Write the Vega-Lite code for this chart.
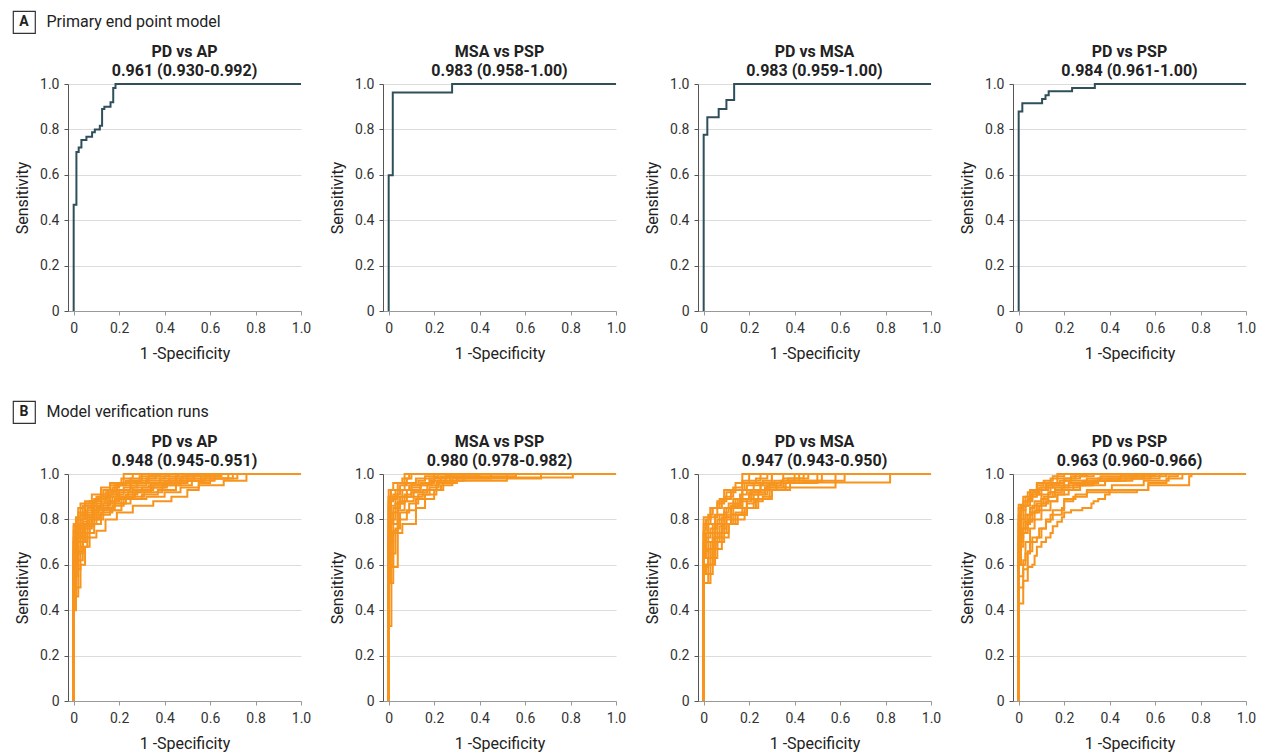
{
"$schema": "https://vega.github.io/schema/vega-lite/v6.json",
"padding": {"left": 12, "top": 10, "right": 3, "bottom": 3},
"background": "white",
"config": {
  "view": {"stroke": null},
  "font": "Roboto",
  "title": {"font": "Roboto", "fontSize": 16, "fontWeight": "bold", "color": "#222", "lineHeight": 19, "offset": -2, "anchor": "middle"},
  "axis": {"labelFont": "Roboto", "labelFontSize": 14, "labelColor": "#333", "titleFont": "Roboto", "titleFontSize": 16, "titleFontWeight": "normal", "titleColor": "#222", "tickSize": 4, "gridColor": "#dcdcdc", "gridWidth": 1, "labelFlush": false}
},
"datasets": {
  "a1": [{"r":1,"x":0,"y":0},{"r":1,"x":0,"y":0.468},{"r":1,"x":0.012,"y":0.70},{"r":1,"x":0.022,"y":0.72},{"r":1,"x":0.034,"y":0.753},{"r":1,"x":0.056,"y":0.768},{"r":1,"x":0.081,"y":0.787},{"r":1,"x":0.093,"y":0.80},{"r":1,"x":0.115,"y":0.816},{"r":1,"x":0.125,"y":0.89},{"r":1,"x":0.135,"y":0.90},{"r":1,"x":0.162,"y":0.92},{"r":1,"x":0.174,"y":0.982},{"r":1,"x":0.184,"y":1},{"r":1,"x":1,"y":1}],
  "a2": [{"r":1,"x":0,"y":0},{"r":1,"x":0,"y":0.598},{"r":1,"x":0.018,"y":0.963},{"r":1,"x":0.279,"y":1},{"r":1,"x":1,"y":1}],
  "a3": [{"r":1,"x":0,"y":0},{"r":1,"x":0,"y":0.776},{"r":1,"x":0.016,"y":0.853},{"r":1,"x":0.066,"y":0.89},{"r":1,"x":0.10,"y":0.929},{"r":1,"x":0.134,"y":1},{"r":1,"x":1,"y":1}],
  "a4": [{"r":1,"x":0,"y":0},{"r":1,"x":0,"y":0.879},{"r":1,"x":0.016,"y":0.915},{"r":1,"x":0.103,"y":0.934},{"r":1,"x":0.118,"y":0.95},{"r":1,"x":0.132,"y":0.968},{"r":1,"x":0.235,"y":0.982},{"r":1,"x":0.335,"y":1},{"r":1,"x":1,"y":1}],
  "b1": [
{"r":1,"x":0,"y":0},{"r":1,"x":0,"y":0.78},{"r":1,"x":0.01,"y":0.81},{"r":1,"x":0.03,"y":0.87},{"r":1,"x":0.07,"y":0.88},{"r":1,"x":0.1,"y":0.9},{"r":1,"x":0.13,"y":0.93},{"r":1,"x":0.16,"y":0.95},{"r":1,"x":0.22,"y":1},{"r":1,"x":1,"y":1},
{"r":2,"x":0,"y":0},{"r":2,"x":0,"y":0.72},{"r":2,"x":0.02,"y":0.8},{"r":2,"x":0.04,"y":0.86},{"r":2,"x":0.09,"y":0.88},{"r":2,"x":0.12,"y":0.91},{"r":2,"x":0.17,"y":0.94},{"r":2,"x":0.2,"y":0.96},{"r":2,"x":0.27,"y":0.97},{"r":2,"x":0.33,"y":0.99},{"r":2,"x":0.42,"y":1},{"r":2,"x":1,"y":1},
{"r":3,"x":0,"y":0},{"r":3,"x":0,"y":0.6},{"r":3,"x":0.01,"y":0.7},{"r":3,"x":0.03,"y":0.78},{"r":3,"x":0.06,"y":0.84},{"r":3,"x":0.1,"y":0.87},{"r":3,"x":0.14,"y":0.9},{"r":3,"x":0.19,"y":0.93},{"r":3,"x":0.25,"y":0.95},{"r":3,"x":0.32,"y":0.97},{"r":3,"x":0.45,"y":0.99},{"r":3,"x":0.55,"y":1},{"r":3,"x":1,"y":1},
{"r":4,"x":0,"y":0},{"r":4,"x":0,"y":0.5},{"r":4,"x":0.02,"y":0.65},{"r":4,"x":0.04,"y":0.74},{"r":4,"x":0.07,"y":0.8},{"r":4,"x":0.11,"y":0.84},{"r":4,"x":0.15,"y":0.88},{"r":4,"x":0.2,"y":0.9},{"r":4,"x":0.26,"y":0.93},{"r":4,"x":0.35,"y":0.95},{"r":4,"x":0.45,"y":0.97},{"r":4,"x":0.58,"y":0.99},{"r":4,"x":0.65,"y":1},{"r":4,"x":1,"y":1},
{"r":5,"x":0,"y":0},{"r":5,"x":0,"y":0.4},{"r":5,"x":0.01,"y":0.46},{"r":5,"x":0.02,"y":0.5},{"r":5,"x":0.03,"y":0.6},{"r":5,"x":0.05,"y":0.68},{"r":5,"x":0.07,"y":0.72},{"r":5,"x":0.1,"y":0.75},{"r":5,"x":0.14,"y":0.8},{"r":5,"x":0.19,"y":0.83},{"r":5,"x":0.26,"y":0.86},{"r":5,"x":0.35,"y":0.88},{"r":5,"x":0.43,"y":0.9},{"r":5,"x":0.5,"y":0.93},{"r":5,"x":0.55,"y":0.95},{"r":5,"x":0.66,"y":0.97},{"r":5,"x":0.76,"y":1},{"r":5,"x":1,"y":1},
{"r":6,"x":0,"y":0},{"r":6,"x":0,"y":0.65},{"r":6,"x":0.01,"y":0.72},{"r":6,"x":0.03,"y":0.8},{"r":6,"x":0.05,"y":0.83},{"r":6,"x":0.08,"y":0.86},{"r":6,"x":0.12,"y":0.88},{"r":6,"x":0.16,"y":0.91},{"r":6,"x":0.22,"y":0.94},{"r":6,"x":0.28,"y":0.96},{"r":6,"x":0.38,"y":0.98},{"r":6,"x":0.48,"y":0.99},{"r":6,"x":0.6,"y":1},{"r":6,"x":1,"y":1},
{"r":7,"x":0,"y":0},{"r":7,"x":0,"y":0.55},{"r":7,"x":0.01,"y":0.62},{"r":7,"x":0.02,"y":0.7},{"r":7,"x":0.05,"y":0.76},{"r":7,"x":0.08,"y":0.8},{"r":7,"x":0.13,"y":0.85},{"r":7,"x":0.18,"y":0.89},{"r":7,"x":0.24,"y":0.92},{"r":7,"x":0.3,"y":0.94},{"r":7,"x":0.4,"y":0.96},{"r":7,"x":0.5,"y":0.98},{"r":7,"x":0.7,"y":1},{"r":7,"x":1,"y":1},
{"r":8,"x":0,"y":0},{"r":8,"x":0,"y":0.7},{"r":8,"x":0.02,"y":0.76},{"r":8,"x":0.04,"y":0.82},{"r":8,"x":0.06,"y":0.85},{"r":8,"x":0.09,"y":0.89},{"r":8,"x":0.14,"y":0.92},{"r":8,"x":0.18,"y":0.95},{"r":8,"x":0.23,"y":0.97},{"r":8,"x":0.3,"y":0.98},{"r":8,"x":0.36,"y":1},{"r":8,"x":1,"y":1},
{"r":9,"x":0,"y":0},{"r":9,"x":0,"y":0.45},{"r":9,"x":0.01,"y":0.58},{"r":9,"x":0.03,"y":0.68},{"r":9,"x":0.06,"y":0.77},{"r":9,"x":0.09,"y":0.81},{"r":9,"x":0.12,"y":0.83},{"r":9,"x":0.17,"y":0.86},{"r":9,"x":0.22,"y":0.89},{"r":9,"x":0.3,"y":0.91},{"r":9,"x":0.37,"y":0.93},{"r":9,"x":0.45,"y":0.95},{"r":9,"x":0.52,"y":0.97},{"r":9,"x":0.62,"y":0.98},{"r":9,"x":0.72,"y":1},{"r":9,"x":1,"y":1},
{"r":10,"x":0,"y":0},{"r":10,"x":0,"y":0.75},{"r":10,"x":0.02,"y":0.83},{"r":10,"x":0.05,"y":0.87},{"r":10,"x":0.1,"y":0.89},{"r":10,"x":0.15,"y":0.92},{"r":10,"x":0.19,"y":0.95},{"r":10,"x":0.25,"y":0.98},{"r":10,"x":0.3,"y":1},{"r":10,"x":1,"y":1},
{"r":11,"x":0,"y":0},{"r":11,"x":0,"y":0.68},{"r":11,"x":0.01,"y":0.74},{"r":11,"x":0.04,"y":0.79},{"r":11,"x":0.07,"y":0.82},{"r":11,"x":0.1,"y":0.85},{"r":11,"x":0.15,"y":0.87},{"r":11,"x":0.21,"y":0.9},{"r":11,"x":0.27,"y":0.92},{"r":11,"x":0.34,"y":0.94},{"r":11,"x":0.41,"y":0.96},{"r":11,"x":0.5,"y":0.97},{"r":11,"x":0.56,"y":0.99},{"r":11,"x":0.64,"y":1},{"r":11,"x":1,"y":1},
{"r":12,"x":0,"y":0},{"r":12,"x":0,"y":0.62},{"r":12,"x":0.02,"y":0.72},{"r":12,"x":0.04,"y":0.77},{"r":12,"x":0.06,"y":0.81},{"r":12,"x":0.09,"y":0.84},{"r":12,"x":0.13,"y":0.87},{"r":12,"x":0.17,"y":0.9},{"r":12,"x":0.23,"y":0.91},{"r":12,"x":0.28,"y":0.93},{"r":12,"x":0.34,"y":0.96},{"r":12,"x":0.42,"y":0.98},{"r":12,"x":0.5,"y":1},{"r":12,"x":1,"y":1},
{"r":13,"x":0,"y":0},{"r":13,"x":0,"y":0.7},{"r":13,"x":0.01,"y":0.77},{"r":13,"x":0.03,"y":0.82},{"r":13,"x":0.05,"y":0.86},{"r":13,"x":0.08,"y":0.88},{"r":13,"x":0.11,"y":0.9},{"r":13,"x":0.15,"y":0.93},{"r":13,"x":0.19,"y":0.96},{"r":13,"x":0.24,"y":0.97},{"r":13,"x":0.29,"y":0.99},{"r":13,"x":0.38,"y":1},{"r":13,"x":1,"y":1},
{"r":14,"x":0,"y":0},{"r":14,"x":0,"y":0.52},{"r":14,"x":0.01,"y":0.6},{"r":14,"x":0.02,"y":0.66},{"r":14,"x":0.04,"y":0.72},{"r":14,"x":0.07,"y":0.78},{"r":14,"x":0.1,"y":0.82},{"r":14,"x":0.13,"y":0.84},{"r":14,"x":0.18,"y":0.87},{"r":14,"x":0.23,"y":0.9},{"r":14,"x":0.31,"y":0.92},{"r":14,"x":0.39,"y":0.95},{"r":14,"x":0.47,"y":0.97},{"r":14,"x":0.57,"y":0.98},{"r":14,"x":0.62,"y":1},{"r":14,"x":1,"y":1},
{"r":15,"x":0,"y":0},{"r":15,"x":0,"y":0.77},{"r":15,"x":0.01,"y":0.8},{"r":15,"x":0.02,"y":0.85},{"r":15,"x":0.05,"y":0.88},{"r":15,"x":0.08,"y":0.91},{"r":15,"x":0.12,"y":0.94},{"r":15,"x":0.16,"y":0.96},{"r":15,"x":0.21,"y":0.98},{"r":15,"x":0.26,"y":1},{"r":15,"x":1,"y":1},
{"r":16,"x":0,"y":0},{"r":16,"x":0,"y":0.58},{"r":16,"x":0.01,"y":0.66},{"r":16,"x":0.03,"y":0.74},{"r":16,"x":0.05,"y":0.78},{"r":16,"x":0.08,"y":0.83},{"r":16,"x":0.11,"y":0.86},{"r":16,"x":0.16,"y":0.88},{"r":16,"x":0.2,"y":0.92},{"r":16,"x":0.26,"y":0.94},{"r":16,"x":0.33,"y":0.95},{"r":16,"x":0.4,"y":0.97},{"r":16,"x":0.47,"y":0.98},{"r":16,"x":0.53,"y":1},{"r":16,"x":1,"y":1},
{"r":17,"x":0,"y":0},{"r":17,"x":0,"y":0.66},{"r":17,"x":0.02,"y":0.74},{"r":17,"x":0.03,"y":0.78},{"r":17,"x":0.06,"y":0.82},{"r":17,"x":0.09,"y":0.86},{"r":17,"x":0.12,"y":0.89},{"r":17,"x":0.15,"y":0.91},{"r":17,"x":0.2,"y":0.93},{"r":17,"x":0.25,"y":0.96},{"r":17,"x":0.32,"y":0.98},{"r":17,"x":0.4,"y":0.99},{"r":17,"x":0.46,"y":1},{"r":17,"x":1,"y":1},
{"r":18,"x":0,"y":0},{"r":18,"x":0,"y":0.48},{"r":18,"x":0.01,"y":0.55},{"r":18,"x":0.02,"y":0.62},{"r":18,"x":0.04,"y":0.7},{"r":18,"x":0.06,"y":0.74},{"r":18,"x":0.09,"y":0.78},{"r":18,"x":0.12,"y":0.82},{"r":18,"x":0.16,"y":0.84},{"r":18,"x":0.21,"y":0.87},{"r":18,"x":0.25,"y":0.89},{"r":18,"x":0.32,"y":0.9},{"r":18,"x":0.4,"y":0.92},{"r":18,"x":0.47,"y":0.94},{"r":18,"x":0.55,"y":0.96},{"r":18,"x":0.6,"y":0.98},{"r":18,"x":0.68,"y":1},{"r":18,"x":1,"y":1}
  ],
  "b2": [
{"r":1,"x":0,"y":0},{"r":1,"x":0,"y":0.93},{"r":1,"x":0.02,"y":0.96},{"r":1,"x":0.07,"y":1},{"r":1,"x":1,"y":1},
{"r":2,"x":0,"y":0},{"r":2,"x":0,"y":0.9},{"r":2,"x":0.03,"y":0.93},{"r":2,"x":0.07,"y":0.96},{"r":2,"x":0.12,"y":0.98},{"r":2,"x":0.2,"y":0.985},{"r":2,"x":0.81,"y":1},{"r":2,"x":1,"y":1},
{"r":3,"x":0,"y":0},{"r":3,"x":0,"y":0.85},{"r":3,"x":0.01,"y":0.89},{"r":3,"x":0.04,"y":0.93},{"r":3,"x":0.1,"y":0.95},{"r":3,"x":0.18,"y":0.97},{"r":3,"x":0.52,"y":1},{"r":3,"x":1,"y":1},
{"r":4,"x":0,"y":0},{"r":4,"x":0,"y":0.78},{"r":4,"x":0.02,"y":0.85},{"r":4,"x":0.05,"y":0.9},{"r":4,"x":0.11,"y":0.92},{"r":4,"x":0.17,"y":0.95},{"r":4,"x":0.22,"y":0.97},{"r":4,"x":0.27,"y":1},{"r":4,"x":1,"y":1},
{"r":5,"x":0,"y":0},{"r":5,"x":0,"y":0.33},{"r":5,"x":0.012,"y":0.52},{"r":5,"x":0.02,"y":0.75},{"r":5,"x":0.04,"y":0.88},{"r":5,"x":0.08,"y":0.93},{"r":5,"x":0.14,"y":0.96},{"r":5,"x":0.2,"y":1},{"r":5,"x":1,"y":1},
{"r":6,"x":0,"y":0},{"r":6,"x":0,"y":0.6},{"r":6,"x":0.02,"y":0.78},{"r":6,"x":0.04,"y":0.84},{"r":6,"x":0.07,"y":0.88},{"r":6,"x":0.11,"y":0.9},{"r":6,"x":0.15,"y":0.93},{"r":6,"x":0.24,"y":0.96},{"r":6,"x":0.3,"y":0.98},{"r":6,"x":0.67,"y":1},{"r":6,"x":1,"y":1},
{"r":7,"x":0,"y":0},{"r":7,"x":0,"y":0.7},{"r":7,"x":0.02,"y":0.74},{"r":7,"x":0.04,"y":0.8},{"r":7,"x":0.08,"y":0.84},{"r":7,"x":0.12,"y":0.89},{"r":7,"x":0.16,"y":0.91},{"r":7,"x":0.21,"y":0.96},{"r":7,"x":0.25,"y":0.99},{"r":7,"x":0.4,"y":1},{"r":7,"x":1,"y":1},
{"r":8,"x":0,"y":0},{"r":8,"x":0,"y":0.52},{"r":8,"x":0.01,"y":0.59},{"r":8,"x":0.04,"y":0.74},{"r":8,"x":0.06,"y":0.78},{"r":8,"x":0.12,"y":0.85},{"r":8,"x":0.16,"y":0.89},{"r":8,"x":0.2,"y":0.93},{"r":8,"x":0.23,"y":0.95},{"r":8,"x":0.28,"y":0.97},{"r":8,"x":0.33,"y":1},{"r":8,"x":1,"y":1},
{"r":9,"x":0,"y":0},{"r":9,"x":0,"y":0.58},{"r":9,"x":0.01,"y":0.65},{"r":9,"x":0.03,"y":0.76},{"r":9,"x":0.05,"y":0.83},{"r":9,"x":0.09,"y":0.87},{"r":9,"x":0.13,"y":0.91},{"r":9,"x":0.18,"y":0.94},{"r":9,"x":0.22,"y":0.96},{"r":9,"x":0.28,"y":0.98},{"r":9,"x":0.45,"y":1},{"r":9,"x":1,"y":1},
{"r":10,"x":0,"y":0},{"r":10,"x":0,"y":0.8},{"r":10,"x":0.01,"y":0.86},{"r":10,"x":0.03,"y":0.9},{"r":10,"x":0.06,"y":0.93},{"r":10,"x":0.09,"y":0.95},{"r":10,"x":0.13,"y":0.97},{"r":10,"x":0.16,"y":0.99},{"r":10,"x":0.22,"y":1},{"r":10,"x":1,"y":1},
{"r":11,"x":0,"y":0},{"r":11,"x":0,"y":0.88},{"r":11,"x":0.02,"y":0.91},{"r":11,"x":0.05,"y":0.95},{"r":11,"x":0.08,"y":0.98},{"r":11,"x":0.1,"y":1},{"r":11,"x":1,"y":1},
{"r":12,"x":0,"y":0},{"r":12,"x":0,"y":0.65},{"r":12,"x":0.01,"y":0.8},{"r":12,"x":0.03,"y":0.87},{"r":12,"x":0.06,"y":0.9},{"r":12,"x":0.1,"y":0.92},{"r":12,"x":0.14,"y":0.95},{"r":12,"x":0.19,"y":0.97},{"r":12,"x":0.23,"y":0.99},{"r":12,"x":0.56,"y":1},{"r":12,"x":1,"y":1},
{"r":13,"x":0,"y":0},{"r":13,"x":0,"y":0.9},{"r":13,"x":0.01,"y":0.93},{"r":13,"x":0.04,"y":0.96},{"r":13,"x":0.06,"y":0.98},{"r":13,"x":0.09,"y":1},{"r":13,"x":1,"y":1},
{"r":14,"x":0,"y":0},{"r":14,"x":0,"y":0.72},{"r":14,"x":0.01,"y":0.78},{"r":14,"x":0.02,"y":0.83},{"r":14,"x":0.04,"y":0.87},{"r":14,"x":0.07,"y":0.91},{"r":14,"x":0.1,"y":0.94},{"r":14,"x":0.14,"y":0.96},{"r":14,"x":0.18,"y":0.98},{"r":14,"x":0.26,"y":1},{"r":14,"x":1,"y":1}
  ],
  "b3": [
{"r":1,"x":0,"y":0},{"r":1,"x":0,"y":0.81},{"r":1,"x":0.03,"y":0.85},{"r":1,"x":0.07,"y":0.89},{"r":1,"x":0.09,"y":0.93},{"r":1,"x":0.17,"y":1},{"r":1,"x":1,"y":1},
{"r":2,"x":0,"y":0},{"r":2,"x":0,"y":0.52},{"r":2,"x":0.02,"y":0.56},{"r":2,"x":0.04,"y":0.63},{"r":2,"x":0.06,"y":0.7},{"r":2,"x":0.09,"y":0.78},{"r":2,"x":0.12,"y":0.85},{"r":2,"x":0.17,"y":0.93},{"r":2,"x":0.25,"y":0.96},{"r":2,"x":0.42,"y":1},{"r":2,"x":1,"y":1},
{"r":3,"x":0,"y":0},{"r":3,"x":0,"y":0.63},{"r":3,"x":0.03,"y":0.7},{"r":3,"x":0.05,"y":0.74},{"r":3,"x":0.08,"y":0.78},{"r":3,"x":0.12,"y":0.82},{"r":3,"x":0.17,"y":0.85},{"r":3,"x":0.23,"y":0.89},{"r":3,"x":0.29,"y":0.93},{"r":3,"x":0.36,"y":0.963},{"r":3,"x":0.82,"y":1},{"r":3,"x":1,"y":1},
{"r":4,"x":0,"y":0},{"r":4,"x":0,"y":0.74},{"r":4,"x":0.02,"y":0.78},{"r":4,"x":0.05,"y":0.82},{"r":4,"x":0.09,"y":0.85},{"r":4,"x":0.13,"y":0.89},{"r":4,"x":0.2,"y":0.92},{"r":4,"x":0.27,"y":0.94},{"r":4,"x":0.58,"y":1},{"r":4,"x":1,"y":1},
{"r":5,"x":0,"y":0},{"r":5,"x":0,"y":0.56},{"r":5,"x":0.01,"y":0.6},{"r":5,"x":0.03,"y":0.67},{"r":5,"x":0.06,"y":0.74},{"r":5,"x":0.1,"y":0.78},{"r":5,"x":0.15,"y":0.82},{"r":5,"x":0.19,"y":0.85},{"r":5,"x":0.24,"y":0.89},{"r":5,"x":0.3,"y":0.93},{"r":5,"x":0.38,"y":0.97},{"r":5,"x":0.62,"y":1},{"r":5,"x":1,"y":1},
{"r":6,"x":0,"y":0},{"r":6,"x":0,"y":0.7},{"r":6,"x":0.01,"y":0.74},{"r":6,"x":0.04,"y":0.78},{"r":6,"x":0.07,"y":0.82},{"r":6,"x":0.1,"y":0.85},{"r":6,"x":0.14,"y":0.89},{"r":6,"x":0.17,"y":0.93},{"r":6,"x":0.22,"y":0.96},{"r":6,"x":0.3,"y":1},{"r":6,"x":1,"y":1},
{"r":7,"x":0,"y":0},{"r":7,"x":0,"y":0.59},{"r":7,"x":0.02,"y":0.63},{"r":7,"x":0.04,"y":0.7},{"r":7,"x":0.07,"y":0.74},{"r":7,"x":0.11,"y":0.78},{"r":7,"x":0.13,"y":0.82},{"r":7,"x":0.19,"y":0.89},{"r":7,"x":0.24,"y":0.93},{"r":7,"x":0.32,"y":0.96},{"r":7,"x":0.5,"y":1},{"r":7,"x":1,"y":1},
{"r":8,"x":0,"y":0},{"r":8,"x":0,"y":0.78},{"r":8,"x":0.02,"y":0.82},{"r":8,"x":0.04,"y":0.85},{"r":8,"x":0.06,"y":0.88},{"r":8,"x":0.1,"y":0.92},{"r":8,"x":0.14,"y":0.96},{"r":8,"x":0.2,"y":1},{"r":8,"x":1,"y":1},
{"r":9,"x":0,"y":0},{"r":9,"x":0,"y":0.66},{"r":9,"x":0.02,"y":0.7},{"r":9,"x":0.05,"y":0.78},{"r":9,"x":0.08,"y":0.81},{"r":9,"x":0.12,"y":0.85},{"r":9,"x":0.15,"y":0.89},{"r":9,"x":0.2,"y":0.91},{"r":9,"x":0.27,"y":0.94},{"r":9,"x":0.35,"y":0.98},{"r":9,"x":0.46,"y":1},{"r":9,"x":1,"y":1},
{"r":10,"x":0,"y":0},{"r":10,"x":0,"y":0.52},{"r":10,"x":0.03,"y":0.6},{"r":10,"x":0.05,"y":0.67},{"r":10,"x":0.08,"y":0.72},{"r":10,"x":0.11,"y":0.78},{"r":10,"x":0.14,"y":0.8},{"r":10,"x":0.18,"y":0.85},{"r":10,"x":0.22,"y":0.88},{"r":10,"x":0.26,"y":0.9},{"r":10,"x":0.3,"y":0.93},{"r":10,"x":0.36,"y":0.96},{"r":10,"x":0.44,"y":0.97},{"r":10,"x":0.52,"y":1},{"r":10,"x":1,"y":1},
{"r":11,"x":0,"y":0},{"r":11,"x":0,"y":0.75},{"r":11,"x":0.01,"y":0.8},{"r":11,"x":0.03,"y":0.85},{"r":11,"x":0.06,"y":0.87},{"r":11,"x":0.09,"y":0.9},{"r":11,"x":0.13,"y":0.94},{"r":11,"x":0.17,"y":0.97},{"r":11,"x":0.25,"y":1},{"r":11,"x":1,"y":1},
{"r":12,"x":0,"y":0},{"r":12,"x":0,"y":0.6},{"r":12,"x":0.02,"y":0.67},{"r":12,"x":0.04,"y":0.72},{"r":12,"x":0.07,"y":0.77},{"r":12,"x":0.09,"y":0.81},{"r":12,"x":0.12,"y":0.86},{"r":12,"x":0.16,"y":0.88},{"r":12,"x":0.21,"y":0.92},{"r":12,"x":0.25,"y":0.95},{"r":12,"x":0.31,"y":0.97},{"r":12,"x":0.35,"y":1},{"r":12,"x":1,"y":1},
{"r":13,"x":0,"y":0},{"r":13,"x":0,"y":0.7},{"r":13,"x":0.02,"y":0.78},{"r":13,"x":0.03,"y":0.81},{"r":13,"x":0.06,"y":0.85},{"r":13,"x":0.08,"y":0.89},{"r":13,"x":0.12,"y":0.93},{"r":13,"x":0.18,"y":0.96},{"r":13,"x":0.23,"y":0.98},{"r":13,"x":0.28,"y":1},{"r":13,"x":1,"y":1},
{"r":14,"x":0,"y":0},{"r":14,"x":0,"y":0.56},{"r":14,"x":0.02,"y":0.6},{"r":14,"x":0.04,"y":0.67},{"r":14,"x":0.05,"y":0.72},{"r":14,"x":0.08,"y":0.76},{"r":14,"x":0.1,"y":0.8},{"r":14,"x":0.14,"y":0.83},{"r":14,"x":0.19,"y":0.87},{"r":14,"x":0.22,"y":0.91},{"r":14,"x":0.28,"y":0.95},{"r":14,"x":0.34,"y":0.97},{"r":14,"x":0.4,"y":1},{"r":14,"x":1,"y":1},
{"r":15,"x":0,"y":0},{"r":15,"x":0,"y":0.67},{"r":15,"x":0.01,"y":0.72},{"r":15,"x":0.03,"y":0.76},{"r":15,"x":0.06,"y":0.8},{"r":15,"x":0.09,"y":0.83},{"r":15,"x":0.11,"y":0.87},{"r":15,"x":0.16,"y":0.91},{"r":15,"x":0.19,"y":0.95},{"r":15,"x":0.26,"y":0.97},{"r":15,"x":0.3,"y":1},{"r":15,"x":1,"y":1},
{"r":16,"x":0,"y":0},{"r":16,"x":0,"y":0.63},{"r":16,"x":0.01,"y":0.67},{"r":16,"x":0.04,"y":0.74},{"r":16,"x":0.06,"y":0.78},{"r":16,"x":0.1,"y":0.82},{"r":16,"x":0.13,"y":0.86},{"r":16,"x":0.17,"y":0.89},{"r":16,"x":0.21,"y":0.93},{"r":16,"x":0.29,"y":0.96},{"r":16,"x":0.37,"y":0.98},{"r":16,"x":0.44,"y":1},{"r":16,"x":1,"y":1}
  ],
  "b4": [
{"r":1,"x":0,"y":0},{"r":1,"x":0,"y":0.865},{"r":1,"x":0.02,"y":0.9},{"r":1,"x":0.04,"y":0.92},{"r":1,"x":0.08,"y":0.96},{"r":1,"x":0.14,"y":0.98},{"r":1,"x":0.17,"y":1},{"r":1,"x":1,"y":1},
{"r":2,"x":0,"y":0},{"r":2,"x":0,"y":0.43},{"r":2,"x":0.02,"y":0.53},{"r":2,"x":0.04,"y":0.59},{"r":2,"x":0.06,"y":0.6},{"r":2,"x":0.07,"y":0.64},{"r":2,"x":0.08,"y":0.68},{"r":2,"x":0.1,"y":0.7},{"r":2,"x":0.12,"y":0.72},{"r":2,"x":0.14,"y":0.74},{"r":2,"x":0.15,"y":0.77},{"r":2,"x":0.17,"y":0.79},{"r":2,"x":0.19,"y":0.81},{"r":2,"x":0.2,"y":0.83},{"r":2,"x":0.23,"y":0.84},{"r":2,"x":0.28,"y":0.85},{"r":2,"x":0.32,"y":0.87},{"r":2,"x":0.33,"y":0.88},{"r":2,"x":0.35,"y":0.89},{"r":2,"x":0.38,"y":0.91},{"r":2,"x":0.4,"y":0.92},{"r":2,"x":0.52,"y":0.93},{"r":2,"x":0.57,"y":0.95},{"r":2,"x":0.75,"y":0.99},{"r":2,"x":0.76,"y":1},{"r":2,"x":1,"y":1},
{"r":3,"x":0,"y":0},{"r":3,"x":0,"y":0.6},{"r":3,"x":0.03,"y":0.65},{"r":3,"x":0.05,"y":0.7},{"r":3,"x":0.08,"y":0.72},{"r":3,"x":0.1,"y":0.76},{"r":3,"x":0.12,"y":0.8},{"r":3,"x":0.15,"y":0.84},{"r":3,"x":0.2,"y":0.88},{"r":3,"x":0.24,"y":0.9},{"r":3,"x":0.3,"y":0.92},{"r":3,"x":0.4,"y":0.93},{"r":3,"x":0.57,"y":0.96},{"r":3,"x":0.65,"y":0.98},{"r":3,"x":0.72,"y":1},{"r":3,"x":1,"y":1},
{"r":4,"x":0,"y":0},{"r":4,"x":0,"y":0.75},{"r":4,"x":0.01,"y":0.8},{"r":4,"x":0.03,"y":0.86},{"r":4,"x":0.05,"y":0.9},{"r":4,"x":0.08,"y":0.93},{"r":4,"x":0.12,"y":0.95},{"r":4,"x":0.2,"y":0.97},{"r":4,"x":0.3,"y":0.98},{"r":4,"x":0.45,"y":0.99},{"r":4,"x":0.6,"y":1},{"r":4,"x":1,"y":1},
{"r":5,"x":0,"y":0},{"r":5,"x":0,"y":0.55},{"r":5,"x":0.02,"y":0.62},{"r":5,"x":0.03,"y":0.7},{"r":5,"x":0.05,"y":0.76},{"r":5,"x":0.07,"y":0.8},{"r":5,"x":0.1,"y":0.84},{"r":5,"x":0.14,"y":0.88},{"r":5,"x":0.17,"y":0.91},{"r":5,"x":0.2,"y":0.93},{"r":5,"x":0.27,"y":0.95},{"r":5,"x":0.38,"y":0.97},{"r":5,"x":0.5,"y":0.99},{"r":5,"x":0.65,"y":1},{"r":5,"x":1,"y":1},
{"r":6,"x":0,"y":0},{"r":6,"x":0,"y":0.8},{"r":6,"x":0.02,"y":0.86},{"r":6,"x":0.04,"y":0.89},{"r":6,"x":0.06,"y":0.92},{"r":6,"x":0.09,"y":0.94},{"r":6,"x":0.12,"y":0.96},{"r":6,"x":0.17,"y":0.98},{"r":6,"x":0.25,"y":1},{"r":6,"x":1,"y":1},
{"r":7,"x":0,"y":0},{"r":7,"x":0,"y":0.68},{"r":7,"x":0.01,"y":0.74},{"r":7,"x":0.03,"y":0.78},{"r":7,"x":0.05,"y":0.83},{"r":7,"x":0.08,"y":0.87},{"r":7,"x":0.11,"y":0.9},{"r":7,"x":0.15,"y":0.92},{"r":7,"x":0.19,"y":0.94},{"r":7,"x":0.26,"y":0.96},{"r":7,"x":0.35,"y":0.98},{"r":7,"x":0.45,"y":1},{"r":7,"x":1,"y":1},
{"r":8,"x":0,"y":0},{"r":8,"x":0,"y":0.5},{"r":8,"x":0.02,"y":0.58},{"r":8,"x":0.04,"y":0.66},{"r":8,"x":0.06,"y":0.72},{"r":8,"x":0.09,"y":0.76},{"r":8,"x":0.12,"y":0.79},{"r":8,"x":0.14,"y":0.82},{"r":8,"x":0.19,"y":0.85},{"r":8,"x":0.2,"y":0.89},{"r":8,"x":0.25,"y":0.91},{"r":8,"x":0.3,"y":0.93},{"r":8,"x":0.41,"y":0.95},{"r":8,"x":0.55,"y":0.97},{"r":8,"x":0.66,"y":0.99},{"r":8,"x":0.7,"y":1},{"r":8,"x":1,"y":1},
{"r":9,"x":0,"y":0},{"r":9,"x":0,"y":0.85},{"r":9,"x":0.02,"y":0.88},{"r":9,"x":0.05,"y":0.91},{"r":9,"x":0.09,"y":0.93},{"r":9,"x":0.13,"y":0.95},{"r":9,"x":0.18,"y":0.97},{"r":9,"x":0.23,"y":0.99},{"r":9,"x":0.33,"y":1},{"r":9,"x":1,"y":1},
{"r":10,"x":0,"y":0},{"r":10,"x":0,"y":0.72},{"r":10,"x":0.02,"y":0.79},{"r":10,"x":0.04,"y":0.82},{"r":10,"x":0.06,"y":0.86},{"r":10,"x":0.1,"y":0.89},{"r":10,"x":0.13,"y":0.92},{"r":10,"x":0.16,"y":0.94},{"r":10,"x":0.22,"y":0.96},{"r":10,"x":0.28,"y":0.97},{"r":10,"x":0.36,"y":0.99},{"r":10,"x":0.52,"y":1},{"r":10,"x":1,"y":1},
{"r":11,"x":0,"y":0},{"r":11,"x":0,"y":0.63},{"r":11,"x":0.01,"y":0.7},{"r":11,"x":0.02,"y":0.76},{"r":11,"x":0.04,"y":0.8},{"r":11,"x":0.07,"y":0.84},{"r":11,"x":0.1,"y":0.87},{"r":11,"x":0.13,"y":0.9},{"r":11,"x":0.16,"y":0.93},{"r":11,"x":0.24,"y":0.95},{"r":11,"x":0.32,"y":0.97},{"r":11,"x":0.44,"y":0.98},{"r":11,"x":0.58,"y":1},{"r":11,"x":1,"y":1},
{"r":12,"x":0,"y":0},{"r":12,"x":0,"y":0.78},{"r":12,"x":0.01,"y":0.84},{"r":12,"x":0.03,"y":0.88},{"r":12,"x":0.06,"y":0.91},{"r":12,"x":0.1,"y":0.94},{"r":12,"x":0.15,"y":0.96},{"r":12,"x":0.2,"y":0.98},{"r":12,"x":0.27,"y":0.99},{"r":12,"x":0.3,"y":1},{"r":12,"x":1,"y":1},
{"r":13,"x":0,"y":0},{"r":13,"x":0,"y":0.82},{"r":13,"x":0.01,"y":0.86},{"r":13,"x":0.03,"y":0.9},{"r":13,"x":0.05,"y":0.93},{"r":13,"x":0.08,"y":0.95},{"r":13,"x":0.11,"y":0.97},{"r":13,"x":0.15,"y":0.99},{"r":13,"x":0.2,"y":1},{"r":13,"x":1,"y":1},
{"r":14,"x":0,"y":0},{"r":14,"x":0,"y":0.7},{"r":14,"x":0.01,"y":0.76},{"r":14,"x":0.03,"y":0.82},{"r":14,"x":0.05,"y":0.85},{"r":14,"x":0.07,"y":0.88},{"r":14,"x":0.1,"y":0.91},{"r":14,"x":0.14,"y":0.94},{"r":14,"x":0.2,"y":0.95},{"r":14,"x":0.29,"y":0.97},{"r":14,"x":0.4,"y":0.98},{"r":14,"x":0.55,"y":1},{"r":14,"x":1,"y":1},
{"r":15,"x":0,"y":0},{"r":15,"x":0,"y":0.6},{"r":15,"x":0.01,"y":0.68},{"r":15,"x":0.02,"y":0.74},{"r":15,"x":0.04,"y":0.79},{"r":15,"x":0.06,"y":0.83},{"r":15,"x":0.09,"y":0.86},{"r":15,"x":0.12,"y":0.88},{"r":15,"x":0.17,"y":0.91},{"r":15,"x":0.22,"y":0.93},{"r":15,"x":0.27,"y":0.95},{"r":15,"x":0.33,"y":0.97},{"r":15,"x":0.47,"y":0.98},{"r":15,"x":0.62,"y":1},{"r":15,"x":1,"y":1}
  ],
  "labA": [{"t": "A"}],
  "labB": [{"t": "B"}],
  "txtA": [{"t": "Primary end point model"}],
  "txtB": [{"t": "Model verification runs"}],
  "blank": [{"t": ""}]
},
"vconcat": [
  {"vconcat": [
    {"hconcat": [
      {"width": 22, "height": 22, "data": {"name": "labA"},
       "view": {"stroke": "#333", "strokeWidth": 1.2},
       "mark": {"type": "text", "fontWeight": "bold", "fontSize": 14, "font": "Roboto", "color": "#222"},
       "encoding": {"text": {"field": "t"}}},
      {"width": 1, "height": 22, "data": {"name": "txtA"},
       "mark": {"type": "text", "align": "left", "baseline": "middle", "fontSize": 16, "font": "Roboto", "color": "#222"},
       "encoding": {"text": {"field": "t"}}}
    ], "spacing": 10},
    {"hconcat": [
      {"width": 1, "height": 1, "data": {"name": "blank"}, "mark": "text", "encoding": {"text": {"field": "t"}}},
      {"hconcat": [
      {"width": 233, "height": 227, "title": {"text": ["PD vs AP", "0.961 (0.930-0.992)"]}, "data": {"name": "a1"},
       "mark": {"type": "line", "interpolate": "step-after", "color": "#2f4f5b", "strokeWidth": 2},
       "encoding": {
        "x": {"field": "x", "type": "quantitative", "scale": {"domain": [-0.025, 1]}, "title": "1 -Specificity", "axis": {"values": [0,0.2,0.4,0.6,0.8,1], "grid": false, "labelExpr": "datum.value == 0 ? '0' : format(datum.value, '.1f')", "domainColor": "#999", "tickColor": "#999", "labelPadding": 6, "titlePadding": 10}},
        "y": {"field": "y", "type": "quantitative", "scale": {"domain": [0, 1]}, "title": "Sensitivity", "axis": {"values": [0,0.2,0.4,0.6,0.8,1], "grid": true, "labelExpr": "datum.value == 0 ? '0' : format(datum.value, '.1f')", "domainColor": "#555", "tickColor": "#555", "labelPadding": 5, "titlePadding": 9}},
        "detail": {"field": "r"}, "order": {"value": null}}},
      {"width": 233, "height": 227, "title": {"text": ["MSA vs PSP", "0.983 (0.958-1.00)"]}, "data": {"name": "a2"},
       "mark": {"type": "line", "interpolate": "step-after", "color": "#2f4f5b", "strokeWidth": 2},
       "encoding": {
        "x": {"field": "x", "type": "quantitative", "scale": {"domain": [-0.025, 1]}, "title": "1 -Specificity", "axis": {"values": [0,0.2,0.4,0.6,0.8,1], "grid": false, "labelExpr": "datum.value == 0 ? '0' : format(datum.value, '.1f')", "domainColor": "#999", "tickColor": "#999", "labelPadding": 6, "titlePadding": 10}},
        "y": {"field": "y", "type": "quantitative", "scale": {"domain": [0, 1]}, "title": "Sensitivity", "axis": {"values": [0,0.2,0.4,0.6,0.8,1], "grid": true, "labelExpr": "datum.value == 0 ? '0' : format(datum.value, '.1f')", "domainColor": "#555", "tickColor": "#555", "labelPadding": 5, "titlePadding": 9}},
        "detail": {"field": "r"}, "order": {"value": null}}},
      {"width": 233, "height": 227, "title": {"text": ["PD vs MSA", "0.983 (0.959-1.00)"]}, "data": {"name": "a3"},
       "mark": {"type": "line", "interpolate": "step-after", "color": "#2f4f5b", "strokeWidth": 2},
       "encoding": {
        "x": {"field": "x", "type": "quantitative", "scale": {"domain": [-0.025, 1]}, "title": "1 -Specificity", "axis": {"values": [0,0.2,0.4,0.6,0.8,1], "grid": false, "labelExpr": "datum.value == 0 ? '0' : format(datum.value, '.1f')", "domainColor": "#999", "tickColor": "#999", "labelPadding": 6, "titlePadding": 10}},
        "y": {"field": "y", "type": "quantitative", "scale": {"domain": [0, 1]}, "title": "Sensitivity", "axis": {"values": [0,0.2,0.4,0.6,0.8,1], "grid": true, "labelExpr": "datum.value == 0 ? '0' : format(datum.value, '.1f')", "domainColor": "#555", "tickColor": "#555", "labelPadding": 5, "titlePadding": 9}},
        "detail": {"field": "r"}, "order": {"value": null}}},
      {"width": 233, "height": 227, "title": {"text": ["PD vs PSP", "0.984 (0.961-1.00)"]}, "data": {"name": "a4"},
       "mark": {"type": "line", "interpolate": "step-after", "color": "#2f4f5b", "strokeWidth": 2},
       "encoding": {
        "x": {"field": "x", "type": "quantitative", "scale": {"domain": [-0.025, 1]}, "title": "1 -Specificity", "axis": {"values": [0,0.2,0.4,0.6,0.8,1], "grid": false, "labelExpr": "datum.value == 0 ? '0' : format(datum.value, '.1f')", "domainColor": "#999", "tickColor": "#999", "labelPadding": 6, "titlePadding": 10}},
        "y": {"field": "y", "type": "quantitative", "scale": {"domain": [0, 1]}, "title": "Sensitivity", "axis": {"values": [0,0.2,0.4,0.6,0.8,1], "grid": true, "labelExpr": "datum.value == 0 ? '0' : format(datum.value, '.1f')", "domainColor": "#555", "tickColor": "#555", "labelPadding": 5, "titlePadding": 9}},
        "detail": {"field": "r"}, "order": {"value": null}}}
      ], "spacing": 18}
    ], "spacing": 0}
  ], "spacing": 10},
  {"vconcat": [
    {"hconcat": [
      {"width": 22, "height": 22, "data": {"name": "labB"},
       "view": {"stroke": "#333", "strokeWidth": 1.2},
       "mark": {"type": "text", "fontWeight": "bold", "fontSize": 14, "font": "Roboto", "color": "#222"},
       "encoding": {"text": {"field": "t"}}},
      {"width": 1, "height": 22, "data": {"name": "txtB"},
       "mark": {"type": "text", "align": "left", "baseline": "middle", "fontSize": 16, "font": "Roboto", "color": "#222"},
       "encoding": {"text": {"field": "t"}}}
    ], "spacing": 10},
    {"hconcat": [
      {"width": 1, "height": 1, "data": {"name": "blank"}, "mark": "text", "encoding": {"text": {"field": "t"}}},
      {"hconcat": [
      {"width": 233, "height": 227, "title": {"text": ["PD vs AP", "0.948 (0.945-0.951)"]}, "data": {"name": "b1"},
       "mark": {"type": "line", "interpolate": "step-after", "color": "#f7941d", "strokeWidth": 2},
       "encoding": {
        "x": {"field": "x", "type": "quantitative", "scale": {"domain": [-0.025, 1]}, "title": "1 -Specificity", "axis": {"values": [0,0.2,0.4,0.6,0.8,1], "grid": false, "labelExpr": "datum.value == 0 ? '0' : format(datum.value, '.1f')", "domainColor": "#999", "tickColor": "#999", "labelPadding": 6, "titlePadding": 10}},
        "y": {"field": "y", "type": "quantitative", "scale": {"domain": [0, 1]}, "title": "Sensitivity", "axis": {"values": [0,0.2,0.4,0.6,0.8,1], "grid": true, "labelExpr": "datum.value == 0 ? '0' : format(datum.value, '.1f')", "domainColor": "#555", "tickColor": "#555", "labelPadding": 5, "titlePadding": 9}},
        "detail": {"field": "r"}, "order": {"value": null}}},
      {"width": 233, "height": 227, "title": {"text": ["MSA vs PSP", "0.980 (0.978-0.982)"]}, "data": {"name": "b2"},
       "mark": {"type": "line", "interpolate": "step-after", "color": "#f7941d", "strokeWidth": 2},
       "encoding": {
        "x": {"field": "x", "type": "quantitative", "scale": {"domain": [-0.025, 1]}, "title": "1 -Specificity", "axis": {"values": [0,0.2,0.4,0.6,0.8,1], "grid": false, "labelExpr": "datum.value == 0 ? '0' : format(datum.value, '.1f')", "domainColor": "#999", "tickColor": "#999", "labelPadding": 6, "titlePadding": 10}},
        "y": {"field": "y", "type": "quantitative", "scale": {"domain": [0, 1]}, "title": "Sensitivity", "axis": {"values": [0,0.2,0.4,0.6,0.8,1], "grid": true, "labelExpr": "datum.value == 0 ? '0' : format(datum.value, '.1f')", "domainColor": "#555", "tickColor": "#555", "labelPadding": 5, "titlePadding": 9}},
        "detail": {"field": "r"}, "order": {"value": null}}},
      {"width": 233, "height": 227, "title": {"text": ["PD vs MSA", "0.947 (0.943-0.950)"]}, "data": {"name": "b3"},
       "mark": {"type": "line", "interpolate": "step-after", "color": "#f7941d", "strokeWidth": 2},
       "encoding": {
        "x": {"field": "x", "type": "quantitative", "scale": {"domain": [-0.025, 1]}, "title": "1 -Specificity", "axis": {"values": [0,0.2,0.4,0.6,0.8,1], "grid": false, "labelExpr": "datum.value == 0 ? '0' : format(datum.value, '.1f')", "domainColor": "#999", "tickColor": "#999", "labelPadding": 6, "titlePadding": 10}},
        "y": {"field": "y", "type": "quantitative", "scale": {"domain": [0, 1]}, "title": "Sensitivity", "axis": {"values": [0,0.2,0.4,0.6,0.8,1], "grid": true, "labelExpr": "datum.value == 0 ? '0' : format(datum.value, '.1f')", "domainColor": "#555", "tickColor": "#555", "labelPadding": 5, "titlePadding": 9}},
        "detail": {"field": "r"}, "order": {"value": null}}},
      {"width": 233, "height": 227, "title": {"text": ["PD vs PSP", "0.963 (0.960-0.966)"]}, "data": {"name": "b4"},
       "mark": {"type": "line", "interpolate": "step-after", "color": "#f7941d", "strokeWidth": 2},
       "encoding": {
        "x": {"field": "x", "type": "quantitative", "scale": {"domain": [-0.025, 1]}, "title": "1 -Specificity", "axis": {"values": [0,0.2,0.4,0.6,0.8,1], "grid": false, "labelExpr": "datum.value == 0 ? '0' : format(datum.value, '.1f')", "domainColor": "#999", "tickColor": "#999", "labelPadding": 6, "titlePadding": 10}},
        "y": {"field": "y", "type": "quantitative", "scale": {"domain": [0, 1]}, "title": "Sensitivity", "axis": {"values": [0,0.2,0.4,0.6,0.8,1], "grid": true, "labelExpr": "datum.value == 0 ? '0' : format(datum.value, '.1f')", "domainColor": "#555", "tickColor": "#555", "labelPadding": 5, "titlePadding": 9}},
        "detail": {"field": "r"}, "order": {"value": null}}}
      ], "spacing": 18}
    ], "spacing": 0}
  ], "spacing": 10}
],
"spacing": 39
}
